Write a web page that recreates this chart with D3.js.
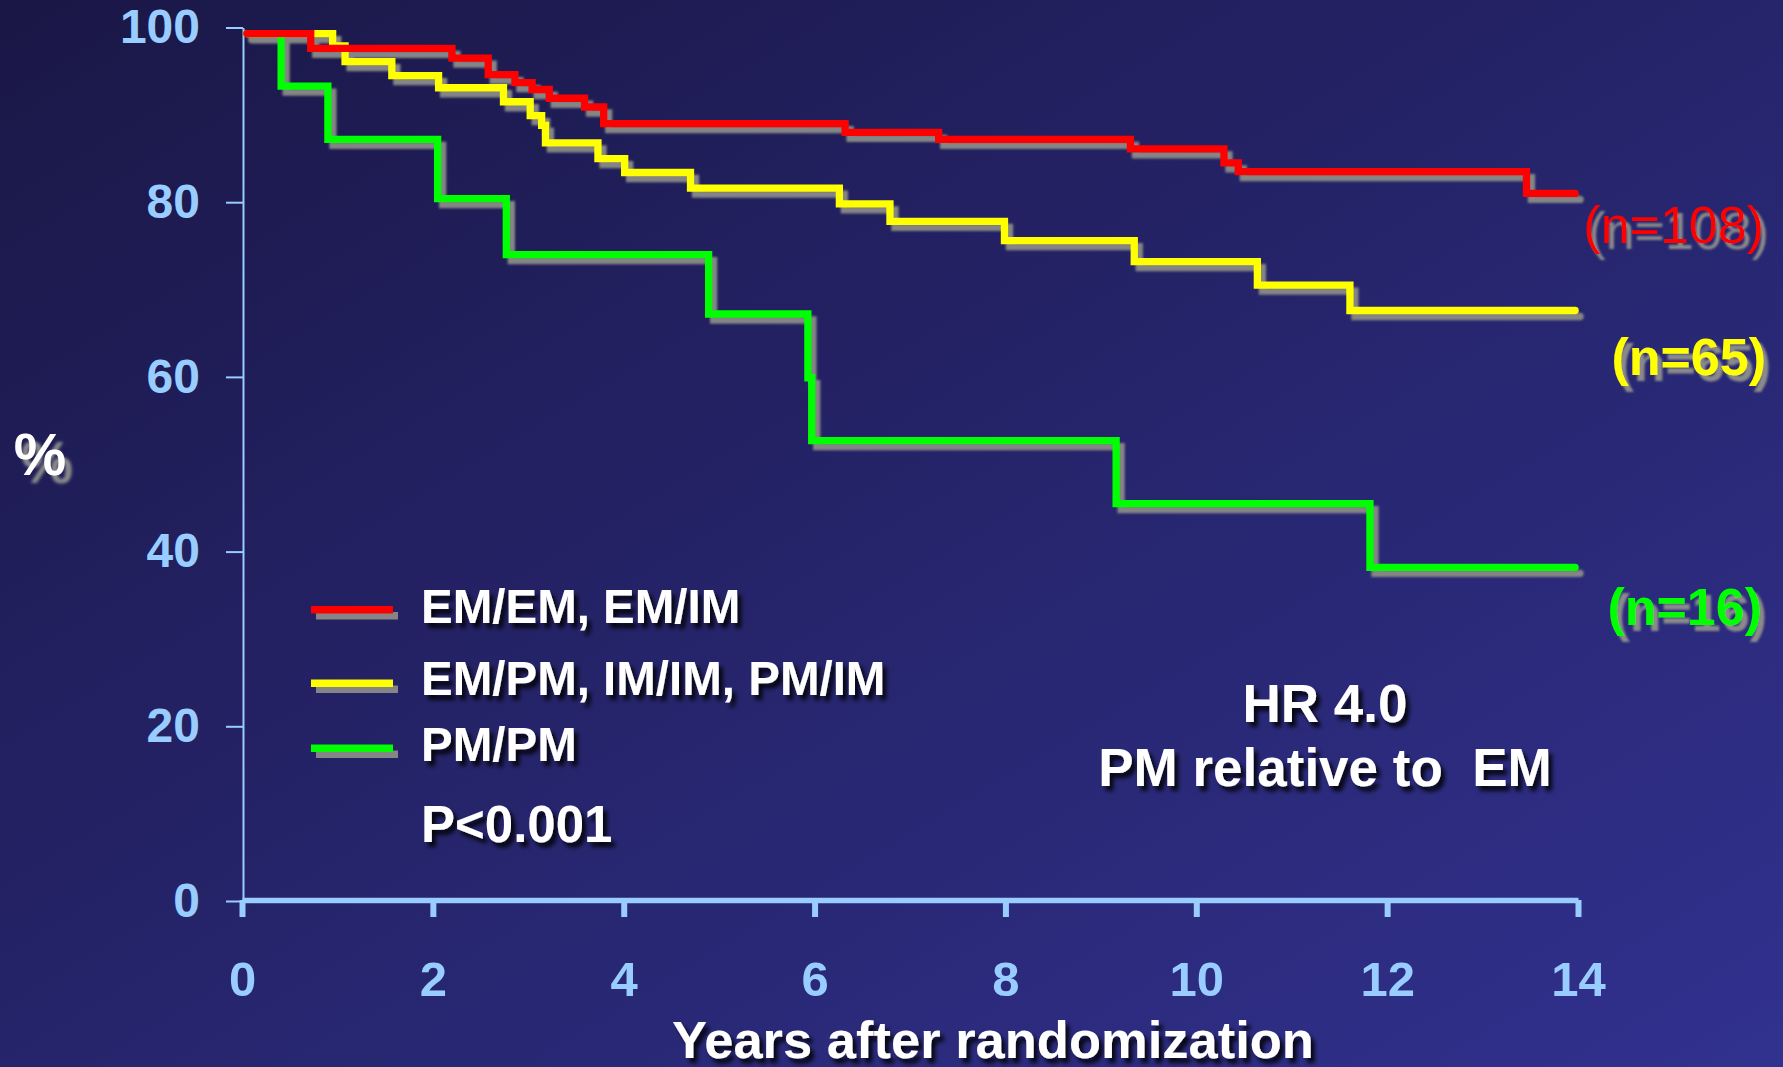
<!DOCTYPE html>
<html>
<head>
<meta charset="utf-8">
<script src="https://cdn.jsdelivr.net/npm/d3@7"></script>
<style>
  html, body { margin: 0; padding: 0; background: #1f1d5a; }
  svg { display: block; font-family: "Liberation Sans", Arial, sans-serif; }
</style>
</head>
<body>
<div id="chart"></div>
<script>
// survival steps (years, % event-free)
const redTimes = [0.05, 0.72, 2.20, 2.58, 2.86, 3.04, 3.22, 3.59, 3.79, 6.32, 7.30, 9.31, 10.29, 10.44, 13.46, 13.97];
const redValues = [99.3, 97.6, 96.5, 94.6, 93.7, 92.9, 91.9, 90.9, 89.0, 88.0, 87.2, 86.1, 84.5, 83.5, 81.0, 81.0];

const yellowTimes = [0.05, 0.95, 1.08, 1.57, 2.06, 2.74, 3.02, 3.14, 3.18, 3.73, 4.01, 4.70, 6.26, 6.79, 7.99, 9.35, 10.64, 11.61, 13.97];
const yellowValues = [99.3, 97.9, 96.1, 94.5, 93.1, 91.5, 89.9, 88.8, 86.8, 85.0, 83.4, 81.6, 79.8, 77.8, 75.6, 73.2, 70.5, 67.6, 67.6];

const greenTimes = [0.05, 0.41, 0.90, 2.05, 2.77, 4.89, 5.93, 5.97, 9.16, 11.82, 13.97];
const greenValues = [99.3, 93.3, 87.2, 80.4, 74.0, 67.2, 59.9, 52.7, 45.5, 38.2, 38.2];

const groupNames = ["EM/EM, EM/IM", "EM/PM, IM/IM, PM/IM", "PM/PM"];
const groupColors = ["#ff0000", "#ffff00", "#00ff00"];
const groupN = ["(n=108)", "(n=65)", "(n=16)"];

const xTicks = [0, 2, 4, 6, 8, 10, 12, 14];
const yTicks = [0, 20, 40, 60, 80, 100];

const w = 1783;
const h = 1067;
const axisBlue = "#99ccff";

const svg = d3.select("#chart")
  .append("svg")
  .attr("width", w)
  .attr("height", h);

const defs = svg.append("defs");

const grad = defs.append("linearGradient")
  .attr("id", "bg")
  .attr("x1", 0).attr("y1", 0)
  .attr("x2", 1).attr("y2", 1);
grad.append("stop").attr("offset", "0%").attr("stop-color", "#1a1746");
grad.append("stop").attr("offset", "100%").attr("stop-color", "#31318f");

// dark shadow under the white text
defs.append("filter")
  .attr("id", "txtShadow")
  .attr("x", "-10%").attr("y", "-30%")
  .attr("width", "130%").attr("height", "170%")
  .append("feDropShadow")
  .attr("dx", 4).attr("dy", 5)
  .attr("stdDeviation", 2)
  .attr("flood-color", "#000")
  .attr("flood-opacity", 0.85);

// grey offset shadow for the n labels and the % sign
function grayShadow(id, dx, dy, blur) {
  const f = defs.append("filter")
    .attr("id", id)
    .attr("x", "-20%").attr("y", "-30%")
    .attr("width", "150%").attr("height", "170%");
  f.append("feGaussianBlur").attr("in", "SourceAlpha").attr("stdDeviation", blur).attr("result", "b");
  f.append("feOffset").attr("in", "b").attr("dx", dx).attr("dy", dy).attr("result", "o");
  f.append("feFlood").attr("flood-color", "#8a8a8a").attr("result", "c");
  f.append("feComposite").attr("in", "c").attr("in2", "o").attr("operator", "in").attr("result", "s");
  const m = f.append("feMerge");
  m.append("feMergeNode").attr("in", "s");
  m.append("feMergeNode").attr("in", "SourceGraphic");
}
grayShadow("nShadow", 5, 6, 1);
grayShadow("pctShadow", 7, 8, 1.8);

defs.append("filter")
  .attr("id", "soft")
  .append("feGaussianBlur")
  .attr("stdDeviation", 0.8);

svg.append("rect")
  .attr("width", w)
  .attr("height", h)
  .attr("fill", "url(#bg)");

const xScale = d3.scaleLinear()
  .domain([0, 14])
  .range([242, 1578]);

const yScale = d3.scaleLinear()
  .domain([0, 100])
  .range([901, 27.5]);

// y axis
const yAxis = d3.axisLeft(yScale)
  .tickValues(yTicks)
  .tickSize(17)
  .tickSizeOuter(0)
  .tickPadding(26);

const gy = svg.append("g")
  .attr("transform", "translate(243, 0)")
  .call(yAxis);
gy.select(".domain").attr("stroke", axisBlue).attr("stroke-width", 2);
gy.selectAll(".tick line").attr("stroke", axisBlue).attr("stroke-width", 2);
gy.selectAll(".tick text")
  .attr("fill", axisBlue)
  .attr("font-size", 48)
  .attr("font-weight", "bold")
  .attr("font-family", "Liberation Sans, Arial, sans-serif");

// x axis
const xAxis = d3.axisBottom(xScale)
  .tickValues(xTicks)
  .tickSize(17)
  .tickSizeOuter(0)
  .tickPadding(44);

const gx = svg.append("g")
  .attr("transform", "translate(0, 900)")
  .call(xAxis);
gx.select(".domain").attr("stroke", axisBlue).attr("stroke-width", 5.5);
gx.selectAll(".tick line").attr("stroke", axisBlue).attr("stroke-width", 6);
gx.selectAll(".tick text")
  .attr("fill", axisBlue)
  .attr("font-size", 49)
  .attr("font-weight", "bold")
  .attr("font-family", "Liberation Sans, Arial, sans-serif");

// curves
const series = [
  { times: greenTimes, values: greenValues, color: groupColors[2] },
  { times: yellowTimes, values: yellowValues, color: groupColors[1] },
  { times: redTimes, values: redValues, color: groupColors[0] }
];

const line = d3.line()
  .x(d => xScale(d[0]))
  .y(d => yScale(d[1]))
  .curve(d3.curveStepAfter);

const pts = s => s.times.map((t, i) => [t, s.values[i]]);

svg.append("g")
  .attr("transform", "translate(5, 6)")
  .attr("filter", "url(#soft)")
  .selectAll("path")
  .data(series)
  .enter()
  .append("path")
  .attr("d", s => line(pts(s)))
  .attr("fill", "none")
  .attr("stroke", "#858585")
  .attr("stroke-width", 7.3)
  .attr("stroke-linecap", "round")
  .attr("stroke-linejoin", "miter");

svg.append("g")
  .selectAll("path")
  .data(series)
  .enter()
  .append("path")
  .attr("d", s => line(pts(s)))
  .attr("fill", "none")
  .attr("stroke", s => s.color)
  .attr("stroke-width", 7.3)
  .attr("stroke-linecap", "round")
  .attr("stroke-linejoin", "miter");

// legend
const legendY = [609.5, 683, 748];
const legendBase = [623, 695, 761];
const legend = svg.append("g");

legend.selectAll("rect.sh")
  .data(groupNames)
  .enter()
  .append("rect")
  .attr("class", "sh")
  .attr("x", 316)
  .attr("y", (d, i) => legendY[i] - 3.5 + 6)
  .attr("width", 82)
  .attr("height", 7.5)
  .attr("fill", "#858585");

legend.selectAll("rect.ln")
  .data(groupNames)
  .enter()
  .append("rect")
  .attr("class", "ln")
  .attr("x", 311)
  .attr("y", (d, i) => legendY[i] - 3.5)
  .attr("width", 82)
  .attr("height", 7.5)
  .attr("fill", (d, i) => groupColors[i]);

legend.selectAll("text")
  .data(groupNames)
  .enter()
  .append("text")
  .attr("x", 421)
  .attr("y", (d, i) => legendBase[i])
  .attr("fill", "#fff")
  .attr("font-size", 47.5)
  .attr("font-weight", "bold")
  .attr("filter", "url(#txtShadow)")
  .text(d => d);

svg.append("text")
  .attr("x", 421)
  .attr("y", 842)
  .attr("fill", "#fff")
  .attr("font-size", 51)
  .attr("font-weight", "bold")
  .attr("filter", "url(#txtShadow)")
  .text("P<0.001");

// hazard ratio note
const hrLines = ["HR 4.0", "PM relative to\u00a0\u00a0EM"];
svg.append("g")
  .selectAll("text")
  .data(hrLines)
  .enter()
  .append("text")
  .attr("x", 1325)
  .attr("y", (d, i) => [722, 786][i])
  .attr("text-anchor", "middle")
  .attr("fill", "#fff")
  .attr("font-size", 53)
  .attr("font-weight", "bold")
  .attr("filter", "url(#txtShadow)")
  .text(d => d);

// n labels at the right
const nBase = [243, 375, 625];
const nRight = [1764, 1766, 1762];
const nWeight = ["normal", "bold", "bold"];
svg.append("g")
  .selectAll("text")
  .data(groupN)
  .enter()
  .append("text")
  .attr("x", (d, i) => nRight[i])
  .attr("y", (d, i) => nBase[i])
  .attr("text-anchor", "end")
  .attr("fill", (d, i) => groupColors[i])
  .attr("font-size", 52)
  .attr("font-weight", (d, i) => nWeight[i])
  .attr("filter", "url(#nShadow)")
  .text(d => d);

// axis titles
svg.append("text")
  .attr("x", 40)
  .attr("y", 475)
  .attr("text-anchor", "middle")
  .attr("fill", "#fff")
  .attr("font-size", 59)
  .attr("font-weight", "bold")
  .attr("filter", "url(#pctShadow)")
  .text("%");

svg.append("text")
  .attr("x", 993)
  .attr("y", 1058)
  .attr("text-anchor", "middle")
  .attr("fill", "#fff")
  .attr("font-size", 52.5)
  .attr("font-weight", "bold")
  .attr("filter", "url(#txtShadow)")
  .text("Years after randomization");
</script>
</body>
</html>
